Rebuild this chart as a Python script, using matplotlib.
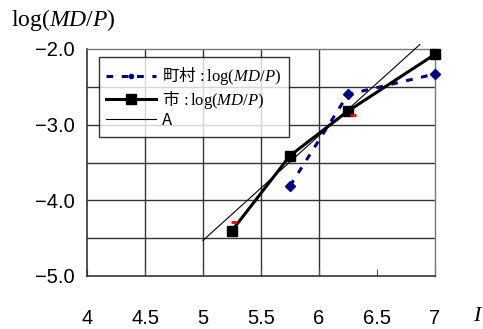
import matplotlib.pyplot as plt
from matplotlib.lines import Line2D

plt.rcParams['mathtext.fontset'] = 'custom'
plt.rcParams['mathtext.rm'] = 'Liberation Serif'
plt.rcParams['mathtext.it'] = 'Liberation Serif:italic'
plt.rcParams['axes.unicode_minus'] = True

# data
shi_x = [5.25, 5.75, 6.25, 7.0]
shi_y = [-4.40, -3.41, -2.82, -2.07]
choson_x = [5.75, 6.25, 7.0]
choson_y = [-3.81, -2.60, -2.33]
a_x = [5.0, 6.87]
a_y = [-4.53, -1.94]
red_x = [5.27, 6.29]
red_y = [-4.29, -2.87]

xticks = [4, 4.5, 5, 5.5, 6, 6.5, 7]
xtick_labels = ['4', '4.5', '5', '5.5', '6', '6.5', '7']
xgrid = [4.5, 5, 5.5, 6]
yticks = [-5, -4, -3, -2]
ytick_labels = ['\u22125.0', '\u22124.0', '\u22123.0', '\u22122.0']
ygrid = [-4.5, -4, -3.5, -3, -2.5]

W, H = 483, 329
fig = plt.figure(figsize=(W / 100, H / 100), dpi=100)
ax = fig.add_axes([87 / W, (H - 276) / H, 348 / W, 227 / H])
ax.set_xlim(4, 7)
ax.set_ylim(-5, -2)

for gx in xgrid:
    ax.axvline(gx, color='#333333', lw=1.0, zorder=1)
for gy in ygrid:
    ax.axhline(gy, color='#333333', lw=1.0, zorder=1)

for s in ['left', 'bottom']:
    ax.spines[s].set_color('#333333')
    ax.spines[s].set_linewidth(1.2)
for s in ['right', 'top']:
    ax.spines[s].set_color('#777777')
    ax.spines[s].set_linewidth(1.0)

ax.plot(a_x, a_y, color='black', lw=0.8, zorder=3, clip_on=False)
ax.plot(choson_x, choson_y, color='#000080', lw=2.2, ls=(0, (2.2, 2.8)),
        marker='D', ms=5.5, zorder=4, clip_on=False)
ax.plot(shi_x, shi_y, color='black', lw=2.2, marker='s', ms=6.5,
        zorder=5, clip_on=False)
ax.plot(red_x, red_y, ls='none', marker='_', color='red', ms=5, mew=2, zorder=6)

ax.set_xticks(xticks)
ax.set_xticklabels(xtick_labels, fontsize=14.5, family='Liberation Sans')
ax.set_yticks(yticks)
ax.set_yticklabels(ytick_labels, fontsize=14.5, family='Liberation Sans')
ax.tick_params(axis='x', direction='in', length=5, pad=24, color='#555555')
ax.tick_params(axis='y', length=0, pad=9)

fig.text(11 / W, 1 - 20 / H, r'$\mathrm{log(}MD/P\mathrm{)}$', fontsize=17,
         va='center', ha='left')
fig.text(478 / W, 1 - 315 / H, r'$I$', fontsize=16, va='center', ha='center')

handles = [
    Line2D([], [], color='#000080', lw=2.2, ls=(0, (2.2, 2.8)), marker='o', ms=3),
    Line2D([], [], color='black', lw=2.2, marker='s', ms=7),
    Line2D([], [], color='black', lw=0.8),
]
labels = [r'町村$\mathrm{\,:log(}MD/P\mathrm{)}$',
          r'市$\mathrm{\,:log(}MD/P\mathrm{)}$',
          'A']
leg = ax.legend(handles, labels, loc='upper left', bbox_to_anchor=(0.034, 0.965),
                prop={'family': 'Noto Sans CJK JP', 'size': 12},
                handlelength=3.0, handletextpad=0.35, borderpad=0.45,
                labelspacing=0.08, frameon=True, fancybox=False,
                borderaxespad=0)
leg.get_frame().set_edgecolor('black')
leg.get_frame().set_linewidth(1.0)
leg.set_zorder(10)

fig.savefig('out.png', dpi=100)
